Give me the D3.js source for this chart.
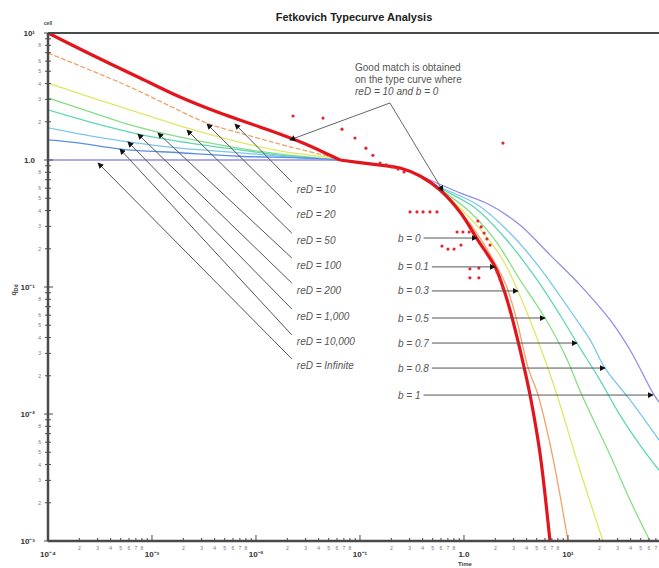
<!DOCTYPE html>
<html>
<head>
<meta charset="utf-8">
<script src="https://cdn.jsdelivr.net/npm/d3@7"></script>
<style>
  body { margin: 0; background: #fff; }
  svg { display: block; font-family: "Liberation Sans", Arial, sans-serif; }
</style>
</head>
<body>
<svg id="chart" width="659" height="568"></svg>
<script>
// transient stems, [time, qDd]
const stem10    = [[1e-4,10],[2.54e-4,6.83],[7.67e-4,4.42],[1.86e-3,3.13],[4.51e-3,2.34],[0.0109,1.82],[0.0265,1.39],[0.0515,1.09],[0.0642,1.0]];
const stem20    = [[1e-4,6.96],[2.54e-4,5.11],[6.13e-4,3.76],[1.49e-3,2.66],[3.38e-3,1.95],[8.75e-3,1.55],[0.0212,1.27],[0.0515,1.06],[0.0642,1.0]];
const stem50    = [[1e-4,4.04],[2.54e-4,3.13],[6.13e-4,2.48],[2.17e-3,1.79],[5.62e-3,1.44],[0.017,1.18],[0.0515,1.04],[0.0642,1.0]];
const stem100   = [[1e-4,3.08],[2.54e-4,2.39],[6.13e-4,1.89],[1.14e-3,1.66],[2.9e-3,1.41],[8.75e-3,1.2],[0.0265,1.07],[0.0642,1.0]];
const stem200   = [[1e-4,2.48],[2.54e-4,1.99],[7.32e-4,1.6],[2.32e-3,1.36],[7.0e-3,1.2],[0.0212,1.07],[0.0642,1.0]];
const stem1000  = [[1e-4,1.79],[2.54e-4,1.55],[5.87e-4,1.39],[1.86e-3,1.24],[7.0e-3,1.14],[0.0265,1.04],[0.0642,1.0]];
const stem10000 = [[1e-4,1.44],[2.03e-4,1.36],[4.92e-4,1.22],[1.86e-3,1.14],[7.0e-3,1.07],[0.0265,1.04],[0.0642,1.0]];
const stemInf   = [[1e-4,1.0],[0.0642,1.0]];

// depletion stems; they all share the start
const shared = [[0.0642,1.0],[0.125,0.931],[0.243,0.865],[0.378,0.748]];
const dep0  = shared.concat([[0.588,0.581],[0.915,0.39],[1.36,0.234],[1.99,0.144],[2.37,0.1],[2.77,0.0659],[3.23,0.0404],[3.78,0.0234],[4.41,0.0129],[5.38,0.0049],[6.71,0.001]]);
const dep01 = shared.concat([[0.588,0.58],[0.915,0.397],[1.43,0.243],[2.08,0.144],[2.53,0.104],[3.16,0.058],[4.12,0.0234],[5.15,0.0141],[7.02,0.0049],[10.0,0.001]]);
const dep03 = shared.concat([[0.588,0.581],[0.957,0.404],[1.59,0.257],[2.37,0.163],[3.3,0.0931],[4.31,0.055],[6.01,0.0266],[7.84,0.0141],[13.0,0.00362],[21.7,0.001]]);
const dep05 = shared.concat([[0.588,0.591],[1.14,0.39],[1.99,0.234],[3.45,0.114],[6.01,0.057],[9.35,0.0292],[13.6,0.0141],[25.4,0.00475],[39.5,0.0021],[61.4,0.001]]);
const dep07 = shared.concat([[0.588,0.602],[1.28,0.419],[2.48,0.243],[4.82,0.12],[8.38,0.0602],[12.2,0.0362],[20.3,0.0185],[31.6,0.0098],[49.2,0.0057],[75,0.00362]]);
const dep08 = shared.concat([[0.588,0.613],[1.36,0.442],[2.77,0.266],[5.38,0.141],[10.4,0.0659],[16.3,0.0383],[22.7,0.023],[39.5,0.0129],[75,0.00624]]);
const dep1  = [[0.0642,1.0],[0.125,0.931],[0.243,0.865],[0.471,0.696],[0.915,0.55],[1.78,0.442],[3.45,0.308],[6.71,0.179],[13.0,0.104],[25.4,0.055],[39.5,0.0319],[65.6,0.0146],[75,0.0124]];

// measured well data
const wellData = [[0.0227,2.22],[0.0441,2.14],[0.0671,1.75],[0.0895,1.49],[0.114,1.24],[0.133,1.09],[0.156,0.947],[0.178,0.914],[0.203,0.881],[0.232,0.849],[0.265,0.805],[2.37,1.36],
  [0.303,0.39],[0.353,0.39],[0.404,0.39],[0.471,0.39],[0.55,0.39],[0.857,0.271],[0.977,0.271],[1.12,0.271],
  [0.614,0.21],[0.701,0.199],[0.802,0.199],[0.935,0.214],[1.36,0.331],[1.46,0.297],[1.56,0.266],[1.66,0.239],[1.78,0.214],
  [1.14,0.139],[1.39,0.141],[1.14,0.118],[1.39,0.118],[2.08,0.131],[2.22,0.114],[2.37,0.0982]];

const reDLabels = ["10", "20", "50", "100", "200", "1,000", "10,000", "Infinite"];
const reDLabelQ = [0.591, 0.369, 0.234, 0.149, 0.0946, 0.0591, 0.0369, 0.0239];
const reDTips   = [[6.28e-3,1.92],[3.38e-3,1.92],[2.17e-3,1.72],[1.14e-3,1.63],[7.32e-4,1.6],[5.87e-4,1.39],[4.92e-4,1.22],[3.03e-4,0.947]];
const bLabels   = ["0", "0.1", "0.3", "0.5", "0.7", "0.8", "1"];
const bLabelQ   = [0.243, 0.144, 0.0931, 0.057, 0.0362, 0.023, 0.0141];
const bTipsT    = [1.33, 1.99, 3.3, 6.01, 12.2, 22.7, 65.6];

const stems = [stem10, stem20, stem50, stem100, stem200, stem1000, stem10000, stemInf];
const stemColors = ["#e3151c", "#f3a268", "#dfe864", "#86df86", "#5fd6b4", "#7cc6ee", "#5a8ee2", "#8f8fe6"];
const deps = [dep0, dep01, dep03, dep05, dep07, dep08, dep1];
const depColors = ["#e3151c", "#f3a268", "#dfe864", "#86df86", "#5fd6b4", "#7cc6ee", "#8f8fe6"];

const svg = d3.select("#chart");
const pLeft = 48, pRight = 659, pTop = 33, pBottom = 541;

const x = d3.scaleLog().domain([1e-4, 75]).range([pLeft, pRight]);
const y = d3.scaleLog().domain([1e-3, 10]).range([pBottom, pTop]);

const defs = svg.append("defs");
defs.append("clipPath").attr("id", "plot")
  .append("rect").attr("x", pLeft).attr("y", pTop).attr("width", pRight - pLeft).attr("height", pBottom - pTop);
defs.append("marker")
  .attr("id", "head").attr("viewBox", "0 0 8 8").attr("refX", 7).attr("refY", 4)
  .attr("markerWidth", 6).attr("markerHeight", 6).attr("markerUnits", "userSpaceOnUse")
  .attr("orient", "auto")
  .append("path").attr("d", "M0,0 L8,4 L0,8 z").attr("fill", "#111");

// title
svg.append("text").attr("x", 354).attr("y", 21).attr("text-anchor", "middle")
  .attr("font-size", 11).attr("font-weight", "bold").attr("fill", "#222")
  .text("Fetkovich Typecurve Analysis");

const line = d3.line().x(d => x(d[0])).y(d => y(d[1])).curve(d3.curveCatmullRom.alpha(0.5));
const plot = svg.append("g").attr("clip-path", "url(#plot)");

// thin curves first, red on top
stems.forEach((s, i) => {
  if (i == 0) return;
  plot.append("path").attr("d", line(s)).attr("fill", "none")
    .attr("stroke", stemColors[i]).attr("stroke-width", 1.3)
    .attr("stroke-dasharray", i == 1 ? "5,2" : null);
});
deps.forEach((s, i) => {
  if (i == 0) return;
  plot.append("path").attr("d", line(s)).attr("fill", "none")
    .attr("stroke", depColors[i]).attr("stroke-width", 1.3);
});
plot.append("path").attr("d", line(stem10)).attr("fill", "none").attr("stroke", stemColors[0]).attr("stroke-width", 3.2);
plot.append("path").attr("d", line(dep0)).attr("fill", "none").attr("stroke", depColors[0]).attr("stroke-width", 3.2);

plot.selectAll(".pt").data(wellData).enter().append("circle")
  .attr("class", "pt").attr("cx", d => x(d[0])).attr("cy", d => y(d[1]))
  .attr("r", 1.6).attr("fill", "#e4262f");

// axes
const axis = svg.append("g").attr("stroke", "#4a4a4a");
axis.append("line").attr("x1", pLeft).attr("x2", pRight).attr("y1", pTop).attr("y2", pTop).attr("stroke-width", 2.2);
axis.append("line").attr("x1", pLeft).attr("x2", pLeft).attr("y1", pTop).attr("y2", pBottom).attr("stroke-width", 2.5);
axis.append("line").attr("x1", pLeft).attr("x2", pRight).attr("y1", pBottom).attr("y2", pBottom).attr("stroke-width", 2.5);

const expo = { "-4": "\u207b\u2074", "-3": "\u207b\u00b3", "-2": "\u207b\u00b2", "-1": "\u207b\u00b9", "1": "\u00b9" };
function majorLabel(d) { return d == 0 ? "1.0" : "10" + expo[d]; }

// x ticks
for (let d = -4; d <= 1; d++) {
  for (let k = 1; k <= 9; k++) {
    const v = k * Math.pow(10, d);
    if (v > 75) continue;
    const px = x(v);
    axis.append("line").attr("x1", px).attr("x2", px)
      .attr("y1", pBottom - (k == 1 ? 6 : 3)).attr("y2", pBottom + 1).attr("stroke-width", 1);
    if (k == 1) {
      svg.append("text").attr("x", px).attr("y", pBottom + 16).attr("text-anchor", "middle")
        .attr("font-size", 8).attr("font-weight", "bold").attr("fill", "#333").text(majorLabel(d));
    } else if (k <= 8) {
      svg.append("text").attr("x", px).attr("y", pBottom + 9).attr("text-anchor", "middle")
        .attr("font-size", 5).attr("fill", "#777").text(k);
    }
  }
}
// y ticks
for (let d = -3; d <= 1; d++) {
  for (let k = 1; k <= 9; k++) {
    const v = k * Math.pow(10, d);
    if (v > 10) continue;
    const py = y(v);
    axis.append("line").attr("x1", pLeft - (k == 1 ? 4 : 3)).attr("x2", pLeft + (k == 1 ? 5 : 3))
      .attr("y1", py).attr("y2", py).attr("stroke-width", 1);
    if (k == 1) {
      svg.append("text").attr("x", 35).attr("y", py + 3).attr("text-anchor", "end")
        .attr("font-size", 8).attr("font-weight", "bold").attr("fill", "#333").text(majorLabel(d));
    } else if ([2, 3, 4, 5, 6, 8].includes(k)) {
      svg.append("text").attr("x", 41).attr("y", py + 2).attr("text-anchor", "end")
        .attr("font-size", 5).attr("fill", "#777").text(k);
    }
  }
}

svg.append("text").attr("x", 465).attr("y", 566).attr("text-anchor", "middle")
  .attr("font-size", 6).attr("font-weight", "bold").attr("fill", "#444").text("Time");
const yt = svg.append("text").attr("transform", "translate(16,290) rotate(-90)").attr("text-anchor", "middle")
  .attr("font-size", 7).attr("font-weight", "bold").attr("fill", "#444");
yt.append("tspan").text("q");
yt.append("tspan").attr("font-size", 5).attr("dy", 2).text("Dd");
svg.append("text").attr("x", 48).attr("y", 25).attr("text-anchor", "middle")
  .attr("font-size", 5).attr("font-weight", "bold").attr("fill", "#444").text("cell");

// reD labels and arrows
const ann = svg.append("g");
reDLabels.forEach((lab, i) => {
  const lx = x(0.0247), ly = y(reDLabelQ[i]);
  ann.append("line").attr("x1", lx - 5).attr("y1", ly - 7)
    .attr("x2", x(reDTips[i][0])).attr("y2", y(reDTips[i][1]))
    .attr("stroke", "#555").attr("stroke-width", 1).attr("marker-end", "url(#head)");
  ann.append("text").attr("x", lx).attr("y", ly + 3.5).attr("font-size", 10)
    .attr("font-style", "italic").attr("fill", "#555").text("reD = " + lab);
});

// b labels and arrows
bLabels.forEach((lab, i) => {
  const lx = x(0.232), ly = y(bLabelQ[i]);
  const t = ann.append("text").attr("x", lx).attr("y", ly + 3.5).attr("font-size", 10)
    .attr("font-style", "italic").attr("fill", "#555").text("b = " + lab);
  const w = t.node().getComputedTextLength();
  ann.append("line").attr("x1", lx + w + 3).attr("y1", ly)
    .attr("x2", x(bTipsT[i])).attr("y2", ly)
    .attr("stroke", "#555").attr("stroke-width", 1).attr("marker-end", "url(#head)");
});

// good match note
const note = ["Good match is obtained", "on the type curve where", "reD = 10 and b = 0"];
note.forEach((s, i) => {
  svg.append("text").attr("x", x(0.0895)).attr("y", y(5.4) + 4 + i * 12)
    .attr("font-size", 10).attr("fill", "#555").attr("font-style", i == 2 ? "italic" : null).text(s);
});
const vertex = [0.194, 2.81];
[[0.0212, 1.44], [0.628, 0.57]].forEach(p => {
  ann.append("line").attr("x1", x(vertex[0])).attr("y1", y(vertex[1]))
    .attr("x2", x(p[0])).attr("y2", y(p[1]))
    .attr("stroke", "#666").attr("stroke-width", 1).attr("marker-end", "url(#head)");
});
</script>
</body>
</html>
